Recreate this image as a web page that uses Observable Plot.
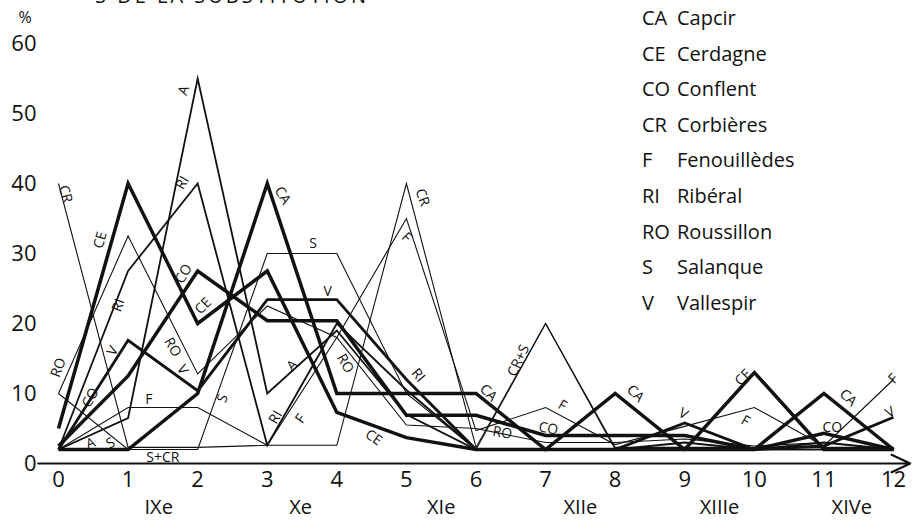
<!DOCTYPE html>
<html>
<head>
<meta charset="utf-8">
<script src="https://cdn.jsdelivr.net/npm/d3@7"></script>
<script src="https://cdn.jsdelivr.net/npm/@observablehq/plot@0.6"></script>
<style>
  body { margin: 0; background: #fff; }
  #wrap { position: relative; width: 913px; height: 527px; overflow: hidden; font-family: "Open Sans", "DejaVu Sans", sans-serif; }
  #legend { position: absolute; left: 642px; top: 4px; font-size: 20px; color: #111; }
  #legend .row { height: 35.6px; line-height: 28px; white-space: nowrap; }
  #legend .code { display: inline-block; width: 35px; }
  #title { position: absolute; left: 95px; top: 0; width: 330px; height: 5px; overflow: hidden; }
  #title div { position: absolute; left: 0; top: -14px; font-size: 20px; line-height: 20px; letter-spacing: 3px; color: #111; white-space: nowrap; }
</style>
</head>
<body>
<div id="wrap">
  <div id="chart"></div>
  <div id="title"><div>S DE LA SUBSTITUTION</div></div>
  <div id="legend"></div>
</div>
<script>
// periods on the x axis (0..12)
const periods = [0,1,2,3,4,5,6,7,8,9,10,11,12];
const yTicks = [0,10,20,30,40,50,60];

// percentage values per series
const CA = [2, 2, 10, 40, 10, 10, 10, 2, 10, 2, 2, 10, 2];
const CE = [5, 40, 20, 27.5, 7.3, 3.7, 2, 2, 2, 2, 13, 2, 2];
const CO = [2.5, 12.5, 27.5, 20.4, 20.4, 6.9, 6.9, 4, 4, 4, 2, 4.3, 2];
const CR = [40, 2.3, 2.3, 2.6, 2.6, 40, 2.3, 20, 2.3, 2.3, 2.3, 2.3, 2.3];
const F  = [2, 8, 8, 2.6, 18, 35, 4.7, 8, 2.7, 5.3, 8, 2.5, 12];
const RI = [2, 27.5, 40, 2.6, 20, 10.5, 2, 2, 2, 3, 2, 3, 2];
const RO = [10, 32.5, 12.8, 22.5, 18, 5.5, 5, 3, 3, 3.5, 2.5, 3, 2];
const S  = [10, 2, 2, 30, 30, 10, 2, 20, 2, 2, 2, 2, 2];
const V  = [2, 17.6, 10.4, 23.4, 23.4, 12, 2, 2, 2, 5.8, 2, 2.5, 6.6];
const A  = [2, 6.5, 55, 10, 19, 7, 2, 2, 2, 2, 2, 2, 2];

const legendCodes = ["CA","CE","CO","CR","F","RI","RO","S","V"];
const legendNames = ["Capcir","Cerdagne","Conflent","Corbières","Fenouillèdes","Ribéral","Roussillon","Salanque","Vallespir"];

const centuryLabels = ["IXe","Xe","XIe","XIIe","XIIIe","XIVe"];
const centuryAt = [1.44, 3.48, 5.5, 7.5, 9.5, 11.4];

// inline labels written along the curves: text, x, y (data units), angle
const lineLabels = [
  ["CR",0.1,38.5,75],["CE",0.6,31.9,-75],["RO",0.0,13.7,-70],["RI",0.86,22.6,-70],
  ["V",0.78,16.1,-60],["CO",0.46,9.4,-60],["A",0.46,2.9,-20],["S",0.75,2.9,-30],
  ["F",1.3,9.2,0],["S+CR",1.5,0.9,0],["A",1.8,53.3,-70],["RI",1.78,40.1,-60],
  ["CO",1.8,27.1,-60],["CE",2.08,22.5,-45],["RO",1.64,16.6,60],["V",1.78,13.4,60],
  ["CA",3.22,38.3,60],["S",3.66,31.4,0],["V",3.87,24.5,0],["S",2.36,9.3,-70],
  ["A",3.36,14,-45],["RI",3.12,6.6,-60],["F",3.48,6.4,-55],["RO",4.12,14.3,60],
  ["CE",4.53,3.7,35],["RI",5.17,12.6,50],["CR",5.23,38,70],["F",5.0,32.3,45],
  ["CA",6.18,10.1,45],["RO",6.38,4.4,10],["CR+S",6.61,14.7,-65],["F",7.24,8.3,30],
  ["CO",7.04,5,10],["CA",8.29,10,45],["V",8.98,7.1,30],["F",9.87,6.1,30],
  ["CE",9.84,12.3,-45],["CA",11.35,9.4,45],["CO",11.12,5.1,0],["F",12.0,12.1,-45],
  ["V",11.95,7.3,-30]
].map(([t,x,y,r]) => ({t,x,y,r}));

const seriesList = [
  {key:"CR", values:CR, w:1.1},
  {key:"F",  values:F,  w:1.1},
  {key:"RO", values:RO, w:1.1},
  {key:"S",  values:S,  w:1.1},
  {key:"A",  values:A,  w:1.8},
  {key:"RI", values:RI, w:1.8},
  {key:"V",  values:V,  w:2.8},
  {key:"CO", values:CO, w:3.5},
  {key:"CE", values:CE, w:3.5},
  {key:"CA", values:CA, w:3.5}
];

const lineMarks = seriesList.map(s =>
  Plot.line(periods.map((p,i) => ({x:p, y:s.values[i]})), {
    x:"x", y:"y", stroke:"#111", strokeWidth:s.w,
    strokeLinejoin:"miter", strokeLinecap:"butt", strokeMiterlimit:10
  })
);

const font = '"Open Sans", "DejaVu Sans", sans-serif';

const chart = Plot.plot({
  width: 913,
  height: 527,
  marginLeft: 58,
  marginRight: 20,
  marginTop: 43,
  marginBottom: 64,
  style: {fontFamily: font, background: "#fff", color: "#111"},
  x: {domain:[0,12]},
  y: {domain:[0,60]},
  marks: [
    Plot.axisX(periods, {tickSize:0, tickPadding:8, fontSize:22, tickFormat:d=>String(d), label:null}),
    Plot.axisY(yTicks, {tickSize:0, tickPadding:22, fontSize:22, label:null}),
    Plot.text(["%"], {frameAnchor:"top-left", dx:-40, dy:-32, fontSize:16, fill:"#111"}),
    Plot.text(centuryLabels, {x:(d,i)=>centuryAt[i], y:()=>0, dy:44, fontSize:20, fill:"#111"}),
    Plot.arrow([{x1:-0.29, x2:12.24, y:0}], {x1:"x1", x2:"x2", y1:"y", y2:"y", bend:0, headLength:14, headAngle:50, strokeWidth:2.2, stroke:"#111"}),
    ...lineMarks,
    Plot.text(lineLabels, {x:"x", y:"y", text:"t", rotate:"r", fontSize:14, fill:"#111", stroke:"none"})
  ]
});
document.getElementById("chart").appendChild(chart);

const legend = document.getElementById("legend");
legendCodes.forEach((c,i) => {
  const row = document.createElement("div");
  row.className = "row";
  row.innerHTML = `<span class="code">${c}</span>${legendNames[i]}`;
  legend.appendChild(row);
});
</script>
</body>
</html>
